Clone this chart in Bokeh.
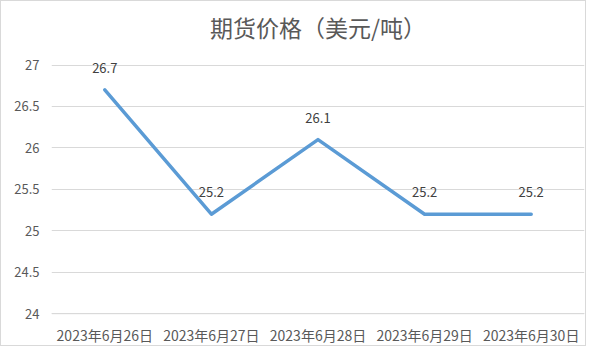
from bokeh.plotting import figure
from bokeh.models import ColumnDataSource, FixedTicker, Range1d, LabelSet, Span
from bokeh.core.properties import value
from bokeh.embed import file_html
from bokeh.resources import INLINE

dates = ["2023年6月26日", "2023年6月27日", "2023年6月28日", "2023年6月29日", "2023年6月30日"]
prices = [26.7, 25.2, 26.1, 25.2, 25.2]
y_ticks = [24, 24.5, 25, 25.5, 26, 26.5, 27]
y_tick_labels = {24: "24", 24.5: "24.5", 25: "25", 25.5: "25.5", 26: "26", 26.5: "26.5", 27: "27"}
title_text = "期货价格（美元/吨）"

FONT = "Noto Sans CJK SC"
GRID = "#D9D9D9"

src = ColumnDataSource(dict(x=dates, y=prices, lbl=[f"{v}" for v in prices]))

p = figure(width=586, height=346, x_range=dates, y_range=Range1d(23.93, 27.1875),
           output_backend="svg", toolbar_location=None,
           min_border_left=50, min_border_right=3, min_border_top=46, min_border_bottom=20)
p.styles = {"border": "1px solid #D9D9D9"}

p.title.text = title_text
p.title.align = "center"
p.title.text_font = FONT
p.title.text_font_size = "23px"
p.title.text_font_style = "normal"
p.title.text_color = "#595959"
p.title.standoff = 12

p.outline_line_color = None
p.background_fill_color = "white"
p.border_fill_color = "white"

p.xgrid.grid_line_color = None
p.ygrid.grid_line_color = GRID
p.ygrid.grid_line_width = 1
p.ygrid.bounds = (23.5, 27.5)

# baseline at the lowest value tick
p.add_layout(Span(location=y_ticks[0], dimension="width", line_color=GRID, line_width=1))

p.yaxis.ticker = FixedTicker(ticks=y_ticks)
p.yaxis.major_label_overrides = y_tick_labels
for ax in (p.xaxis, p.yaxis):
    ax.axis_line_color = None
    ax.major_tick_line_color = None
    ax.minor_tick_line_color = None
    ax.major_tick_out = 0
    ax.major_tick_in = 0
    ax.minor_tick_out = 0
    ax.minor_tick_in = 0
    ax.major_label_text_font = FONT
    ax.major_label_text_color = "#595959"
p.yaxis.major_label_text_font_size = "13px"
p.xaxis.major_label_text_font_size = "14px"
p.yaxis.major_label_standoff = 12
p.xaxis.major_label_standoff = 5

p.line("x", "y", source=src, line_color="#5B9BD5", line_width=3.5, line_join="round", line_cap="round")
labels = LabelSet(x="x", y="y", text="lbl", source=src, text_font=value(FONT), text_font_size="13px",
                  text_color="#404040", text_align="center", text_baseline="middle", y_offset=22)
p.add_layout(labels)

open("out.html", "w").write(file_html(p, INLINE))
